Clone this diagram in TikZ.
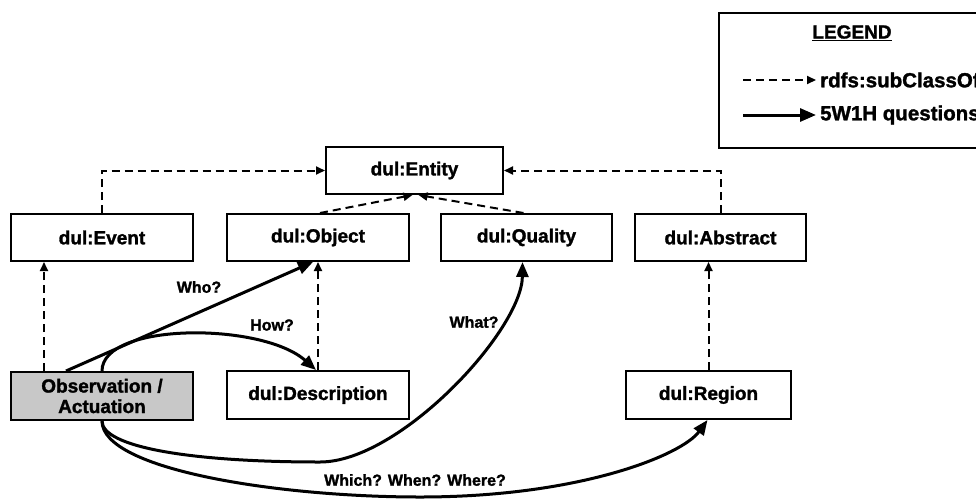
\documentclass[tikz,border=0pt]{standalone}
\usepackage{fontspec}
\setmainfont{Liberation Sans}[BoldFeatures={FakeBold=1.5}]
\usetikzlibrary{arrows.meta}
\definecolor{obsgray}{HTML}{C8C8C8}
\begin{document}
\begin{tikzpicture}[x=1pt,y=-1pt,
  box/.style={draw,line width=2pt,inner sep=0pt,font=\fontsize{19}{21}\selectfont\bfseries,align=center},
  lbl/.style={inner sep=0pt,font=\fontsize{16}{18}\selectfont\bfseries},
  legtxt/.style={inner sep=0pt,font=\fontsize{20.5}{22}\selectfont\bfseries},
  subc/.style={line width=2pt,dash pattern=on 8pt off 5pt,-{Triangle[length=9pt,width=8pt]}},
  ask/.style={line width=3pt,-{Triangle[length=15pt,width=12pt]}}]
\useasboundingbox (0,0) rectangle (976,498);
\clip (0,0) rectangle (976,498);
% legend
\draw[line width=2pt] (719,13) rectangle (1000,148);
\node[legtxt,font=\fontsize{19}{21}\selectfont\bfseries] (leg) at (852,33) {\underline{LEGEND}};
\coordinate (la1) at (743,80);
\coordinate (la2) at (816,80);
\coordinate (lb1) at (743,115);
\coordinate (lb2) at (816,115);
\draw[subc] (la1) -- (la2);
\draw[ask,-{Triangle[length=16pt,width=13pt]}] (lb1) -- (lb2);
\node[legtxt,anchor=west] (lt1) at (820,80) {rdfs:subClassOf};
\node[legtxt,anchor=west] (lt2) at (820,115) {5W1H questions};
% boxes
\node[box,minimum width=177pt,minimum height=47pt] (ent) at (414.5,170.5) {dul:Entity};
\node[box,minimum width=182pt,minimum height=47pt] (evt) at (102,237.5) {dul:Event};
\node[box,minimum width=182pt,minimum height=47pt] (obj) at (318,237.5) {dul:Object};
\node[box,minimum width=171pt,minimum height=47pt] (qua) at (526.5,237.5) {dul:Quality};
\node[box,minimum width=171pt,minimum height=47pt] (abs) at (720.5,237.5) {dul:Abstract};
\node[box,fill=obsgray,minimum width=182pt,minimum height=48pt,font=\fontsize{19}{20.5}\selectfont\bfseries] (obs) at (102,396) {Observation /\\Actuation};
\node[box,minimum width=182pt,minimum height=48pt] (des) at (318,395) {dul:Description};
\node[box,minimum width=165pt,minimum height=48pt] (reg) at (708.5,395) {dul:Region};
% subclass arrows
\draw[subc] (evt.north) |- (ent.west);
\draw[subc] (abs.north) |- (ent.east);
\draw[subc] ([xshift=2pt]obj.north) -- ([xshift=-2pt]ent.south);
\draw[subc] ([xshift=-3pt]qua.north) -- ([xshift=4pt]ent.south);
\draw[subc] ([xshift=34pt]obs.north west) -- ([xshift=34pt]evt.south west);
\draw[subc] (des.north) -- (obj.south);
\draw[subc] (reg.north) -- (reg.north |- abs.south);
% 5W1H arrows
\draw[ask] ([xshift=56pt]obs.north west) -- ([xshift=-5pt]obj.south);
\draw[ask] (obs.north) .. controls (102,322) and (262,322) .. ([xshift=-2pt]des.north);
\draw[ask] (obs.south) .. controls (102,447) and (190,462) .. (320,462)
  .. controls (400,462) and (522,330) .. ([xshift=-4pt]qua.south);
\draw[ask] (obs.south) .. controls (102,470) and (280,497) .. (420,497)
  .. controls (580,497) and (682,455) .. ([xshift=-1pt]reg.south);
% labels
\node[lbl] (who) at (199,287) {Who?};
\node[lbl] (how) at (272,325) {How?};
\node[lbl] (what) at (474,322) {What?};
\node[lbl] (www) at (415,480) {Which? When? Where?};
\end{tikzpicture}
\end{document}
